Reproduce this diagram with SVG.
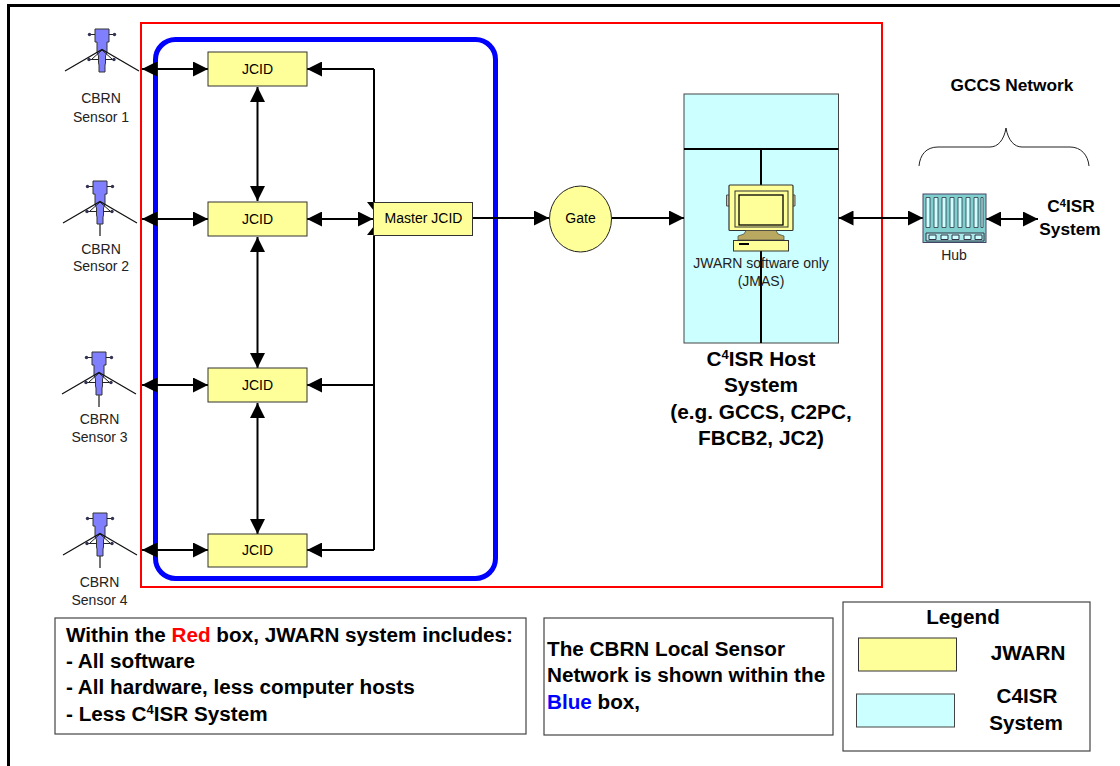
<svg xmlns="http://www.w3.org/2000/svg" width="1120" height="766" viewBox="0 0 1120 766">
<style>
text{font-family:"Liberation Sans",Arial,sans-serif;fill:#000}
.c{text-anchor:middle}
.s{font-size:14px;fill:#222}
.n{font-size:14px}
.b{font-weight:bold}
.note{font-size:20.700px;font-weight:bold}
.jw{fill:#ffff99;stroke:#333;stroke-width:1}
.cy{fill:#ccffff;stroke:#444;stroke-width:1}
.box{fill:#fff;stroke:#444;stroke-width:1.2}
.l{fill:none;stroke:#000;stroke-width:2}
.da{marker-start:url(#as);marker-end:url(#ae)}
.ea{marker-end:url(#ae)}
</style>
<defs>
<marker id="ae" markerUnits="userSpaceOnUse" markerWidth="15" markerHeight="15" refX="15" refY="7.5" orient="auto"><path d="M0,0L15,7.5L0,15z" fill="#000"/></marker>
<marker id="as" markerUnits="userSpaceOnUse" markerWidth="15" markerHeight="15" refX="0" refY="7.5" orient="auto"><path d="M15,0L0,7.500L15,15z" fill="#000"/></marker>
<g id="sensor">
<path d="M-7,0H7V13H5V23L3.500,27V34L3,36V43H-3V36L-3.500,34V27L-5,23V13H-7z" fill="#8080ff" stroke="#333" stroke-width="1"/>
<path d="M-12,5.500H-7M7,5.500H12M-13,30.500H-3.500M3.500,30.500H12M-10,30L0,21L10,30" fill="none" stroke="#222" stroke-width="1"/>
<path d="M-37,42L0,20.500L37,42" fill="none" stroke="#111" stroke-width="1.200"/>
<circle cx="-12.500" cy="5.500" r="1.700" fill="#335"/><circle cx="12.500" cy="5.500" r="1.700" fill="#335"/><circle cx="-13" cy="30.500" r="1.700" fill="#335"/><circle cx="12" cy="30.500" r="1.700" fill="#335"/>
</g>
<path id="stem" d="M0,43V55" stroke="#444" stroke-width="1.500"/>
</defs>
<rect width="1120" height="766" fill="#fff"/>
<path d="M8.500,766V5.500H1120" fill="none" stroke="#000" stroke-width="3"/>
<rect id="red-box" x="141" y="23" width="741" height="564" fill="none" stroke="#ff0000" stroke-width="2"/>
<rect id="blue-box" x="155.500" y="39.500" width="340" height="539" rx="20" fill="none" stroke="#0000ff" stroke-width="5"/>

<g id="host">
<rect class="cy" x="684" y="94" width="154.500" height="249"/>
<path d="M684,149H838.500M761,149V186M761,250V343" fill="none" stroke="#000" stroke-width="2"/>
<g id="computer">
<path d="M729,195h-2.500v11h2.500M793,195h2v11h-2" fill="#c8c8a0" stroke="#555"/>
<rect x="729" y="185" width="64" height="45.500" rx="1" fill="#ffff99" stroke="#333" stroke-width="1.200"/>
<rect x="735" y="191" width="53" height="36" fill="none" stroke="#333"/>
<rect x="739" y="195" width="44" height="30" fill="#ffff99" stroke="#000" stroke-width="1.300"/>
<path d="M784,231h4" stroke="#000" stroke-width="0"/>
<path d="M746,230.500H776L778,234L784,236V240H738V236L744,234z" fill="#b8a860" stroke="#444" stroke-width=".7"/>
<rect x="733.500" y="240.500" width="55" height="10.500" fill="#ffff99" stroke="#333"/>
<path d="M739,244h10" stroke="#000" stroke-width="2"/>
</g>
<text class="s c" x="761" y="268">JWARN software only</text>
<text class="s c" x="761" y="286">(JMAS)</text>
</g>

<g id="connectors">
<path class="l da" d="M142,69H208"/>
<path class="l da" d="M142,219H208"/>
<path class="l da" d="M142,385H208"/>
<path class="l da" d="M142,550H208"/>
<path class="l da" d="M257.500,87V201"/>
<path class="l da" d="M257.500,237V368"/>
<path class="l da" d="M257.500,403V534"/>
<path class="l" d="M374,69V202M374,235V550"/>
<path class="l ea" d="M374,69H307"/>
<path class="l da" d="M307,219H373"/>
<path class="l ea" d="M374,385H307"/>
<path class="l ea" d="M374,550H307"/>
<path d="M367,202H374V211zM367,235H374V226z" fill="#000"/>
<path class="l ea" d="M472,218H549"/>
<path class="l ea" d="M612,218H684"/>
<path class="l da" d="M838.500,218H923"/>
<path class="l da" d="M986,219H1038"/>
<path d="M919,166C920,155 926,147 938,147H990C998,147 1004,140 1006,128C1008,140 1014,147 1022,147H1070C1081,147 1088,155 1089,166" fill="none" stroke="#222" stroke-width="1"/>
</g>

<g id="sensor1"><use href="#sensor" x="102" y="29"/><text class="s c" x="101" y="103">CBRN</text><text class="s c" x="101" y="122">Sensor 1</text></g>
<g id="sensor2"><use href="#sensor" x="100" y="181"/><use href="#stem" x="100" y="181"/><text class="s c" x="101" y="254">CBRN</text><text class="s c" x="101" y="271">Sensor 2</text></g>
<g id="sensor3"><use href="#sensor" x="99" y="352"/><use href="#stem" x="99" y="352"/><text class="s c" x="99.500" y="424">CBRN</text><text class="s c" x="99.500" y="442">Sensor 3</text></g>
<g id="sensor4"><use href="#sensor" x="100" y="513"/><use href="#stem" x="100" y="513"/><text class="s c" x="99.500" y="587">CBRN</text><text class="s c" x="99.500" y="605">Sensor 4</text></g>

<g id="jcid1"><rect class="jw" x="208" y="52" width="99" height="34"/><text class="n c" x="257.500" y="74">JCID</text></g>
<g id="jcid2"><rect class="jw" x="208" y="202" width="99" height="34"/><text class="n c" x="257.500" y="224">JCID</text></g>
<g id="jcid3"><rect class="jw" x="208" y="368" width="99" height="34"/><text class="n c" x="257.500" y="390">JCID</text></g>
<g id="jcid4"><rect class="jw" x="208" y="534" width="99" height="33"/><text class="n c" x="257.500" y="555">JCID</text></g>
<g id="master"><rect class="jw" x="373.500" y="202.500" width="99" height="33"/><text class="n c" x="423.500" y="223">Master JCID</text></g>
<g id="gate"><ellipse cx="580.500" cy="219" rx="31" ry="33" fill="#ffff99" stroke="#222"/><text class="n c" x="580.500" y="223">Gate</text></g>

<g id="hub">
<rect x="923" y="194" width="63" height="48.500" fill="#7fcfcf" stroke="#446" stroke-width="1"/>
<path d="M926,197.500h4v30h-4zM934,197.500h4v30h-4zM942,197.500h4v30h-4zM950,197.500h4v30h-4zM958,197.500h4v30h-4zM966,197.500h4v30h-4zM974,197.500h4v30h-4zM981,197.500h2v30h-2z" fill="#ccffff" stroke="#334" stroke-width=".8"/>
<path d="M926,233h58v8h-58z" fill="#a8e8e8" stroke="#334"/>
<path d="M929,235h7v4.500h-7zM941,235h7v4.500h-7zM952,235h7v4.500h-7zM964,235h7v4.500h-7zM975,235h7v4.500h-7z" fill="#ccffff" stroke="#334"/>
<text class="s c" x="954" y="260">Hub</text>
</g>
<g id="gccs-label"><text class="b c" font-size="17.300" x="1012" y="91">GCCS Network</text></g>
<g id="c4isr-system"><text class="b c" font-size="17.300" x="1071" y="212">C<tspan font-size="11" dy="-5">4</tspan><tspan dy="5">ISR</tspan></text><text class="b c" font-size="17.300" x="1070" y="235">System</text></g>
<g id="host-label" class="b" font-size="20.800">
<text class="c" x="761" y="366">C<tspan font-size="13" dy="-7">4</tspan><tspan dy="7">ISR Host</tspan></text>
<text class="c" x="761" y="392">System</text>
<text class="c" x="761" y="419">(e.g. GCCS, C2PC,</text>
<text class="c" x="761" y="445">FBCB2, JC2)</text>
</g>

<g id="note-red">
<rect class="box" x="55" y="618" width="471" height="116"/>
<text class="note" x="66" y="642">Within the <tspan fill="#ff0000">Red</tspan> box, JWARN system includes:</text>
<text class="note" x="66" y="668">- All software</text>
<text class="note" x="66" y="694">- All hardware, less computer hosts</text>
<text class="note" x="66" y="721">- Less C<tspan font-size="13" dy="-7">4</tspan><tspan dy="7">ISR System</tspan></text>
</g>
<g id="note-blue">
<rect class="box" x="544" y="618" width="289" height="117"/>
<text class="note" x="547" y="656">The CBRN Local Sensor</text>
<text class="note" x="547" y="682">Network is shown within the</text>
<text class="note" x="547" y="709"><tspan fill="#0000ff">Blue</tspan> box,</text>
</g>
<g id="legend">
<rect x="843" y="602" width="247" height="149" fill="#fff" stroke="#444" stroke-width="1.200"/>
<text class="note c" x="963" y="624">Legend</text>
<rect class="jw" x="858.500" y="638" width="98" height="33"/>
<rect class="cy" x="856.500" y="694" width="98" height="33"/>
<text class="note c" x="1028" y="660">JWARN</text>
<text class="note c" x="1027" y="703">C4ISR</text>
<text class="note c" x="1026" y="730">System</text>
</g>
</svg>
